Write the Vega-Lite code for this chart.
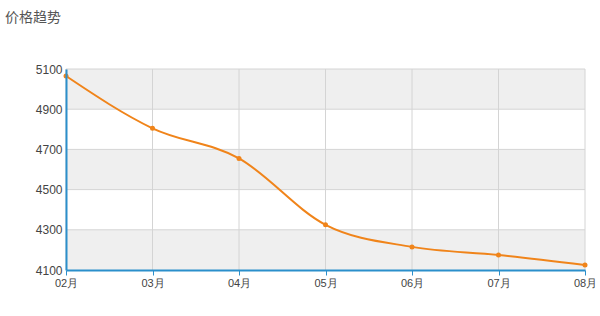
{
  "$schema": "https://vega.github.io/schema/vega-lite/v6.json",
  "width": 519,
  "height": 201,
  "autosize": {"type": "none"},
  "padding": {"left": 66, "top": 69, "right": 15, "bottom": 46},
  "background": "white",
  "title": {
    "text": "价格趋势",
    "anchor": "start",
    "frame": "group",
    "dx": -61,
    "offset": 38,
    "font": "Noto Sans CJK SC",
    "fontSize": 14,
    "fontWeight": "normal",
    "color": "#555555"
  },
  "datasets": {
    "bands": [
      {"lo": 4900, "hi": 5100},
      {"lo": 4500, "hi": 4700},
      {"lo": 4100, "hi": 4300}
    ],
    "grid": [
      {"v": 4300}, {"v": 4500}, {"v": 4700}, {"v": 4900}, {"v": 5100}
    ],
    "prices": [
      {"month": "02月", "price": 5065},
      {"month": "03月", "price": 4805},
      {"month": "04月", "price": 4655},
      {"month": "05月", "price": 4325},
      {"month": "06月", "price": 4215},
      {"month": "07月", "price": 4175},
      {"month": "08月", "price": 4125}
    ]
  },
  "config": {
    "view": {"stroke": null},
    "font": "Liberation Sans",
    "axisX": {
      "title": null, "labelAngle": 0, "grid": false,
      "domainColor": "#2b8fcb", "domainWidth": 2, "tickColor": "#2b8fcb", "tickSize": 5,
      "labelFontSize": 11, "labelColor": "#444444", "labelPadding": 2, "labelAlign": "center"
    },
    "axisY": {
      "title": null, "format": "d",
      "grid": false, "ticks": false,
      "domainColor": "#2b8fcb", "domainWidth": 2,
      "labelFontSize": 12, "labelColor": "#444444", "labelPadding": 4
    }
  },
  "layer": [
    {
      "data": {"name": "bands"},
      "mark": {"type": "rect", "color": "#efefef"},
      "encoding": {
        "y": {"field": "hi", "type": "quantitative", "scale": {"domain": [4100, 5100], "nice": false},
              "axis": {"values": [4100, 4300, 4500, 4700, 4900, 5100], "zindex": 1}},
        "y2": {"field": "lo"}
      }
    },
    {
      "data": {"name": "grid"},
      "mark": {"type": "rule", "color": "#d4d4d4", "strokeWidth": 1},
      "encoding": {
        "y": {"field": "v", "type": "quantitative"}
      }
    },
    {
      "data": {"name": "prices"},
      "mark": {"type": "rule", "color": "#d4d4d4", "strokeWidth": 1},
      "encoding": {
        "x": {"field": "month", "type": "ordinal", "sort": null, "scale": {"type": "point", "padding": 0},
              "axis": {"zindex": 1}}
      }
    },
    {
      "data": {"name": "prices"},
      "mark": {"type": "line", "interpolate": "monotone", "color": "#f0841a", "strokeWidth": 2},
      "encoding": {
        "x": {"field": "month", "type": "ordinal", "sort": null, "scale": {"type": "point", "padding": 0}},
        "y": {"field": "price", "type": "quantitative"}
      }
    },
    {
      "data": {"name": "prices"},
      "mark": {"type": "point", "filled": true, "color": "#f0841a", "size": 25, "opacity": 1},
      "encoding": {
        "x": {"field": "month", "type": "ordinal", "sort": null, "scale": {"type": "point", "padding": 0}},
        "y": {"field": "price", "type": "quantitative"}
      }
    }
  ]
}
